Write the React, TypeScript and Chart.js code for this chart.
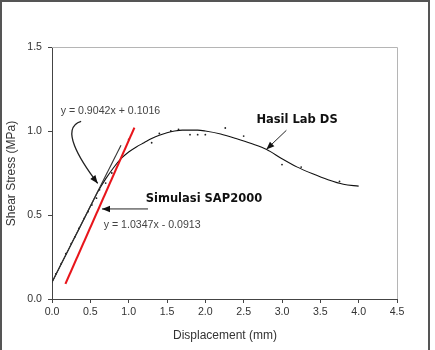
import React, { useEffect, useRef } from "react";
import { Chart, registerables } from "chart.js";

Chart.register(...registerables);

// Lab curve (Hasil Lab DS)
const labX = [0.0, 0.1, 0.2, 0.3, 0.4, 0.5, 0.6, 0.7, 0.8, 0.9, 1.0, 1.1, 1.2, 1.3, 1.4, 1.5, 1.6, 1.7, 1.8, 1.9, 2.0, 2.2, 2.4, 2.6, 2.8, 3.0, 3.2, 3.4, 3.6, 3.8, 4.0];
const labY = [0.10, 0.19, 0.28, 0.37, 0.46, 0.55, 0.64, 0.715, 0.78, 0.835, 0.875, 0.905, 0.93, 0.955, 0.975, 0.99, 1.0, 1.005, 1.005, 1.005, 1.0, 0.982, 0.955, 0.925, 0.89, 0.835, 0.785, 0.745, 0.71, 0.683, 0.672];

// Scattered raw readings
const dotX = [0.05, 0.12, 0.18, 0.25, 0.3, 0.35, 0.42, 0.47, 0.52, 0.58, 0.62, 0.7, 0.78, 1.0, 1.3, 1.4, 1.55, 1.65, 1.8, 1.9, 2.0, 2.26, 2.5, 3.0, 3.25, 3.75];
const dotY = [0.15, 0.21, 0.27, 0.33, 0.37, 0.42, 0.48, 0.52, 0.56, 0.6, 0.65, 0.69, 0.75, 0.95, 0.93, 0.985, 1.0, 1.01, 0.978, 0.978, 0.978, 1.018, 0.97, 0.80, 0.785, 0.70];

// Trend lines (endpoints)
const trendBlackX = [0.0, 0.9];
const trendBlackY = [0.10, 0.915];
const trendRedX = [0.175, 1.075];
const trendRedY = [0.09, 1.02];

const xTicks = [0, 0.5, 1, 1.5, 2, 2.5, 3, 3.5, 4, 4.5];
const yTicks = [0, 0.5, 1, 1.5];

const xTitle = "Displacement (mm)";
const yTitle = "Shear Stress (MPa)";

// Text annotations in data units: [text, x, y]
const eqLabels: [string, number, number][] = [
  ["y = 0.9042x + 0.1016", 0.113, 1.117],
  ["y = 1.0347x - 0.0913", 0.674, 0.438],
];
const boldLabels: [string, number, number][] = [
  ["Hasil Lab DS", 2.666, 1.067],
  ["Simulasi SAP2000", 1.222, 0.597],
];
// Straight arrows: from -> tip (data units)
const arrows: [number, number, number, number][] = [
  [3.057, 1.004, 2.796, 0.89],
  [1.252, 0.536, 0.652, 0.536],
];
// Curved arrow: start, cp1, cp2, tip (data units)
const curvedArrow: [number, number][] = [
  [0.38, 1.058],
  [0.1, 1.02],
  [0.36, 0.83],
  [0.596, 0.688],
];

function pts(xs: number[], ys: number[]) {
  return xs.map((x, i) => ({ x, y: ys[i] }));
}

function arrowHead(ctx: CanvasRenderingContext2D, fx: number, fy: number, tx: number, ty: number) {
  const a = Math.atan2(ty - fy, tx - fx);
  const L = 8, W = 3.2;
  ctx.beginPath();
  ctx.moveTo(tx, ty);
  ctx.lineTo(tx - L * Math.cos(a) + W * Math.sin(a), ty - L * Math.sin(a) - W * Math.cos(a));
  ctx.lineTo(tx - L * Math.cos(a) - W * Math.sin(a), ty - L * Math.sin(a) + W * Math.cos(a));
  ctx.closePath();
  ctx.fill();
}

const decor = {
  id: "decor",
  afterDraw(chart: any) {
    const ctx: CanvasRenderingContext2D = chart.ctx;
    const xs = chart.scales.x, ys = chart.scales.y;
    const ca = chart.chartArea;
    const px = (v: number) => xs.getPixelForValue(v);
    const py = (v: number) => ys.getPixelForValue(v);
    ctx.save();
    // outer frame
    ctx.strokeStyle = "#555";
    ctx.lineWidth = 2;
    ctx.beginPath();
    ctx.moveTo(1, 350);
    ctx.lineTo(1, 1);
    ctx.lineTo(429, 1);
    ctx.lineTo(429, 350);
    ctx.stroke();
    // plot top/right border
    ctx.strokeStyle = "#b5b5b5";
    ctx.lineWidth = 1;
    ctx.beginPath();
    ctx.moveTo(ca.left, ca.top + 0.5);
    ctx.lineTo(ca.right + 0.5, ca.top + 0.5);
    ctx.lineTo(ca.right + 0.5, ca.bottom);
    ctx.stroke();
    // axis titles
    ctx.fillStyle = "#333";
    ctx.font = "12px 'Liberation Sans', Arial, sans-serif";
    ctx.textAlign = "center";
    ctx.textBaseline = "middle";
    ctx.fillText(xTitle, (ca.left + ca.right) / 2 + 0.5, 336);
    ctx.save();
    ctx.translate(12, (ca.top + ca.bottom) / 2 + 0.5);
    ctx.rotate(-Math.PI / 2);
    ctx.fillText(yTitle, 0, 0);
    ctx.restore();
    // equations
    ctx.textAlign = "left";
    ctx.fillStyle = "#444";
    ctx.font = "10.6px 'Liberation Sans', Arial, sans-serif";
    eqLabels.forEach(([t, x, y]) => ctx.fillText(t, px(x), py(y)));
    // bold labels
    ctx.fillStyle = "#111";
    ctx.font = "bold 11.5px 'DejaVu Sans', sans-serif";
    boldLabels.forEach(([t, x, y]) => ctx.fillText(t, px(x), py(y)));
    // straight arrows
    ctx.strokeStyle = "#222";
    ctx.fillStyle = "#111";
    ctx.lineWidth = 1;
    arrows.forEach(([fx, fy, tx, ty]) => {
      const a = px(fx), b = py(fy), c = px(tx), d = py(ty);
      ctx.beginPath();
      ctx.moveTo(a, b);
      ctx.lineTo(c, d);
      ctx.stroke();
      arrowHead(ctx, a, b, c, d);
    });
    // curved arrow
    const cp = curvedArrow.map(([x, y]) => [px(x), py(y)]);
    ctx.lineWidth = 1.3;
    ctx.beginPath();
    ctx.moveTo(cp[0][0], cp[0][1]);
    ctx.bezierCurveTo(cp[1][0], cp[1][1], cp[2][0], cp[2][1], cp[3][0], cp[3][1]);
    ctx.stroke();
    arrowHead(ctx, cp[2][0], cp[2][1], cp[3][0], cp[3][1]);
    ctx.restore();
  },
};

export default function App() {
  const ref = useRef<HTMLCanvasElement | null>(null);
  useEffect(() => {
    if (!ref.current) return;
    const tickFont = { family: "'Liberation Sans', Arial, sans-serif", size: 10.6 };
    const chart = new Chart(ref.current, {
      type: "scatter",
      data: {
        datasets: [
          {
            type: "line",
            data: pts(trendRedX, trendRedY),
            borderColor: "#e8151b",
            borderWidth: 2.1,
            pointRadius: 0,
          } as any,
          {
            type: "line",
            data: pts(trendBlackX, trendBlackY),
            borderColor: "#333",
            borderWidth: 1.1,
            pointRadius: 0,
          } as any,
          {
            type: "line",
            data: pts(labX, labY),
            borderColor: "#111",
            borderWidth: 1.1,
            pointRadius: 0,
            tension: 0.4,
            cubicInterpolationMode: "monotone",
          } as any,
          {
            data: pts(dotX, dotY),
            backgroundColor: "#222",
            borderWidth: 0,
            pointRadius: 0.9,
          },
        ],
      },
      options: {
        animation: false,
        responsive: false,
        events: [],
        layout: { padding: { left: 0, right: 38, top: 47, bottom: 0 } },
        plugins: { legend: { display: false }, tooltip: { enabled: false } },
        scales: {
          x: {
            type: "linear",
            min: 0,
            max: 4.5,
            afterFit: (s: any) => { s.height = 51; },
            afterBuildTicks: (s: any) => { s.ticks = xTicks.map((v) => ({ value: v })); },
            ticks: { font: tickFont, color: "#333", padding: 3, maxRotation: 0, callback: (v: any) => Number(v).toFixed(1) },
            grid: { display: true, drawOnChartArea: false, drawTicks: true, tickLength: 4, color: "#444" },
            border: { display: true, color: "#444", width: 1 },
          },
          y: {
            type: "linear",
            min: 0,
            max: 1.5,
            afterFit: (s: any) => { s.width = 52; },
            afterBuildTicks: (s: any) => { s.ticks = yTicks.map((v) => ({ value: v })); },
            ticks: { font: tickFont, color: "#333", padding: 6, callback: (v: any) => Number(v).toFixed(1) },
            grid: { display: true, drawOnChartArea: false, drawTicks: true, tickLength: 4, color: "#444" },
            border: { display: true, color: "#444", width: 1 },
          },
        },
      },
      plugins: [decor],
    });
    return () => chart.destroy();
  }, []);
  return (
    <div style={{ position: "fixed", left: 0, top: 0, width: 435, height: 350, background: "#fff" }}>
      <canvas ref={ref} width={435} height={350} style={{ display: "block" }} />
    </div>
  );
}
